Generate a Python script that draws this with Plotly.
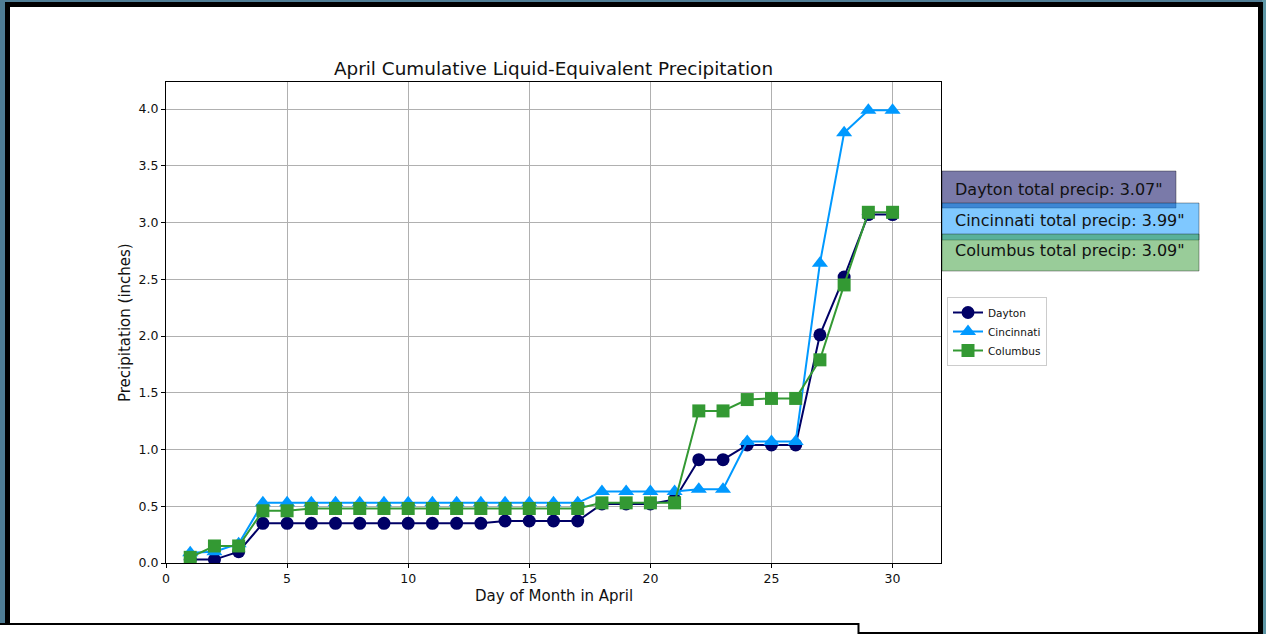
import plotly.graph_objects as go

# ---- data ----
days = list(range(1, 31))
dayton = [0.03, 0.03, 0.10, 0.35, 0.35, 0.35, 0.35, 0.35, 0.35, 0.35,
          0.35, 0.35, 0.35, 0.37, 0.37, 0.37, 0.37, 0.52, 0.52, 0.52,
          0.56, 0.91, 0.91, 1.04, 1.04, 1.04, 2.01, 2.52, 3.07, 3.07]
cincinnati = [0.09, 0.10, 0.17, 0.53, 0.53, 0.53, 0.53, 0.53, 0.53, 0.53,
              0.53, 0.53, 0.53, 0.53, 0.53, 0.53, 0.53, 0.63, 0.63, 0.63,
              0.63, 0.65, 0.65, 1.07, 1.07, 1.07, 2.64, 3.79, 3.99, 3.99]
columbus = [0.05, 0.15, 0.15, 0.46, 0.46, 0.48, 0.48, 0.48, 0.48, 0.48,
            0.48, 0.48, 0.48, 0.48, 0.48, 0.48, 0.48, 0.53, 0.53, 0.53,
            0.53, 1.34, 1.34, 1.44, 1.45, 1.45, 1.79, 2.45, 3.09, 3.09]
city_names = ["Dayton", "Cincinnati", "Columbus"]
x_ticks = [0, 5, 10, 15, 20, 25, 30]
y_ticks = [0.0, 0.5, 1.0, 1.5, 2.0, 2.5, 3.0, 3.5, 4.0]

# ---- styling ----
FONT = "DejaVu Sans"
C_DAY = "#000066"
C_CIN = "#0099ff"
C_COL = "#339933"
FW, FH = 1266, 634
L, T, W, H = 166, 82, 775, 481


def px(x):
    return (x - L) / W


def py(y):
    return (T + H - y) / H


fig = go.Figure()
series = [(dayton, C_DAY, "circle", 13), (cincinnati, C_CIN, "triangle-up", 14),
          (columbus, C_COL, "square", 13)]
for name, (vals, col, sym, sz) in zip(city_names, series):
    fig.add_trace(go.Scatter(
        x=days, y=vals, name=name, mode="lines+markers",
        line=dict(color=col, width=2),
        marker=dict(color=col, symbol=sym, size=sz, line=dict(width=0)),
    ))

shapes = [
    # right strip of the desktop background
    dict(type="rect", xref="paper", yref="paper", x0=px(1262), x1=px(1280),
         y0=py(-10), y1=py(650), fillcolor="#5e97a6", line=dict(width=0), layer="below"),
    # black window frame
    dict(type="rect", xref="paper", yref="paper", x0=px(5), x1=px(1263),
         y0=py(2), y1=py(650), fillcolor="black", line=dict(width=0), layer="below"),
    # white window interior
    dict(type="rect", xref="paper", yref="paper", x0=px(10), x1=px(1258),
         y0=py(7), y1=py(632), fillcolor="white", line=dict(width=0), layer="below"),
    # bottom-left overlapping panel
    dict(type="rect", xref="paper", yref="paper", x0=px(-10), x1=px(858.5),
         y0=py(624), y1=py(650), fillcolor="white",
         line=dict(color="black", width=2), layer="below"),
]

finals = [dayton[-1], cincinnati[-1], columbus[-1]]
box_fills = ["rgba(0,0,90,0.52)", "rgba(0,145,255,0.5)", "rgba(51,153,51,0.5)"]
box_x = [(942, 1176), (942, 1199), (942, 1199)]
box_y = [(171, 208), (203, 240), (234, 271)]
text_y = [189, 220, 251]
annotations = []
for i, name in enumerate(city_names):
    shapes.append(dict(type="rect", xref="paper", yref="paper",
                       x0=px(box_x[i][0]), x1=px(box_x[i][1]),
                       y0=py(box_y[i][0]), y1=py(box_y[i][1]),
                       fillcolor=box_fills[i], line=dict(color="rgba(0,0,0,0.35)", width=1),
                       layer="above"))
for i, name in enumerate(city_names):
    annotations.append(dict(xref="paper", yref="paper", x=px(953), y=py(text_y[i]),
                            xanchor="left", yanchor="middle", showarrow=False,
                            text=f'{name} total precip: {finals[i]:.2f}"',
                            font=dict(family=FONT, size=16, color="#111")))

# axis titles
annotations.append(dict(xref="paper", yref="paper", x=px(553.5), y=py(596),
                        xanchor="center", yanchor="middle", showarrow=False,
                        text="Day of Month in April",
                        font=dict(family=FONT, size=15, color="#111")))
annotations.append(dict(xref="paper", yref="paper", x=px(125), y=py(323),
                        xanchor="center", yanchor="middle", showarrow=False,
                        textangle=-90, text="Precipitation (inches)",
                        font=dict(family=FONT, size=15, color="#111")))

axis_common = dict(showgrid=True, gridcolor="#b0b0b0", gridwidth=1,
                   showline=True, linecolor="black", linewidth=1, mirror=True,
                   ticks="outside", ticklen=4, tickcolor="black", tickwidth=1,
                   zeroline=False, tickfont=dict(family=FONT, size=12.5, color="#111"),
                   automargin=False, fixedrange=True)

fig.update_layout(
    width=FW, height=FH,
    margin=dict(l=L, r=FW - L - W, t=T, b=FH - T - H, pad=0),
    paper_bgcolor="#4f7d95",
    plot_bgcolor="white",
    font=dict(family=FONT, color="#111"),
    title=dict(text="April Cumulative Liquid-Equivalent Precipitation",
               x=px(553.5), xref="paper", xanchor="center",
               y=1 - 69 / FH, yref="container", yanchor="middle",
               font=dict(family=FONT, size=18.4, color="#111")),
    xaxis=dict(range=[0, 32], tickvals=x_ticks, ticktext=[str(v) for v in x_ticks],
               **axis_common),
    yaxis=dict(range=[0, 4.238], tickvals=y_ticks, ticktext=[f"{v:.1f}" for v in y_ticks],
               **axis_common),
    legend=dict(x=px(947), y=py(297), xanchor="left", yanchor="top",
                bgcolor="white", bordercolor="#cccccc", borderwidth=1,
                font=dict(family=FONT, size=10.5, color="#111"),
                tracegroupgap=0, itemwidth=30),
    shapes=shapes,
    annotations=annotations,
    showlegend=True,
)

fig.write_html("out.html",
               config={"displayModeBar": False},
               post_script="document.body.style.margin='0';document.body.style.overflow='hidden';")
